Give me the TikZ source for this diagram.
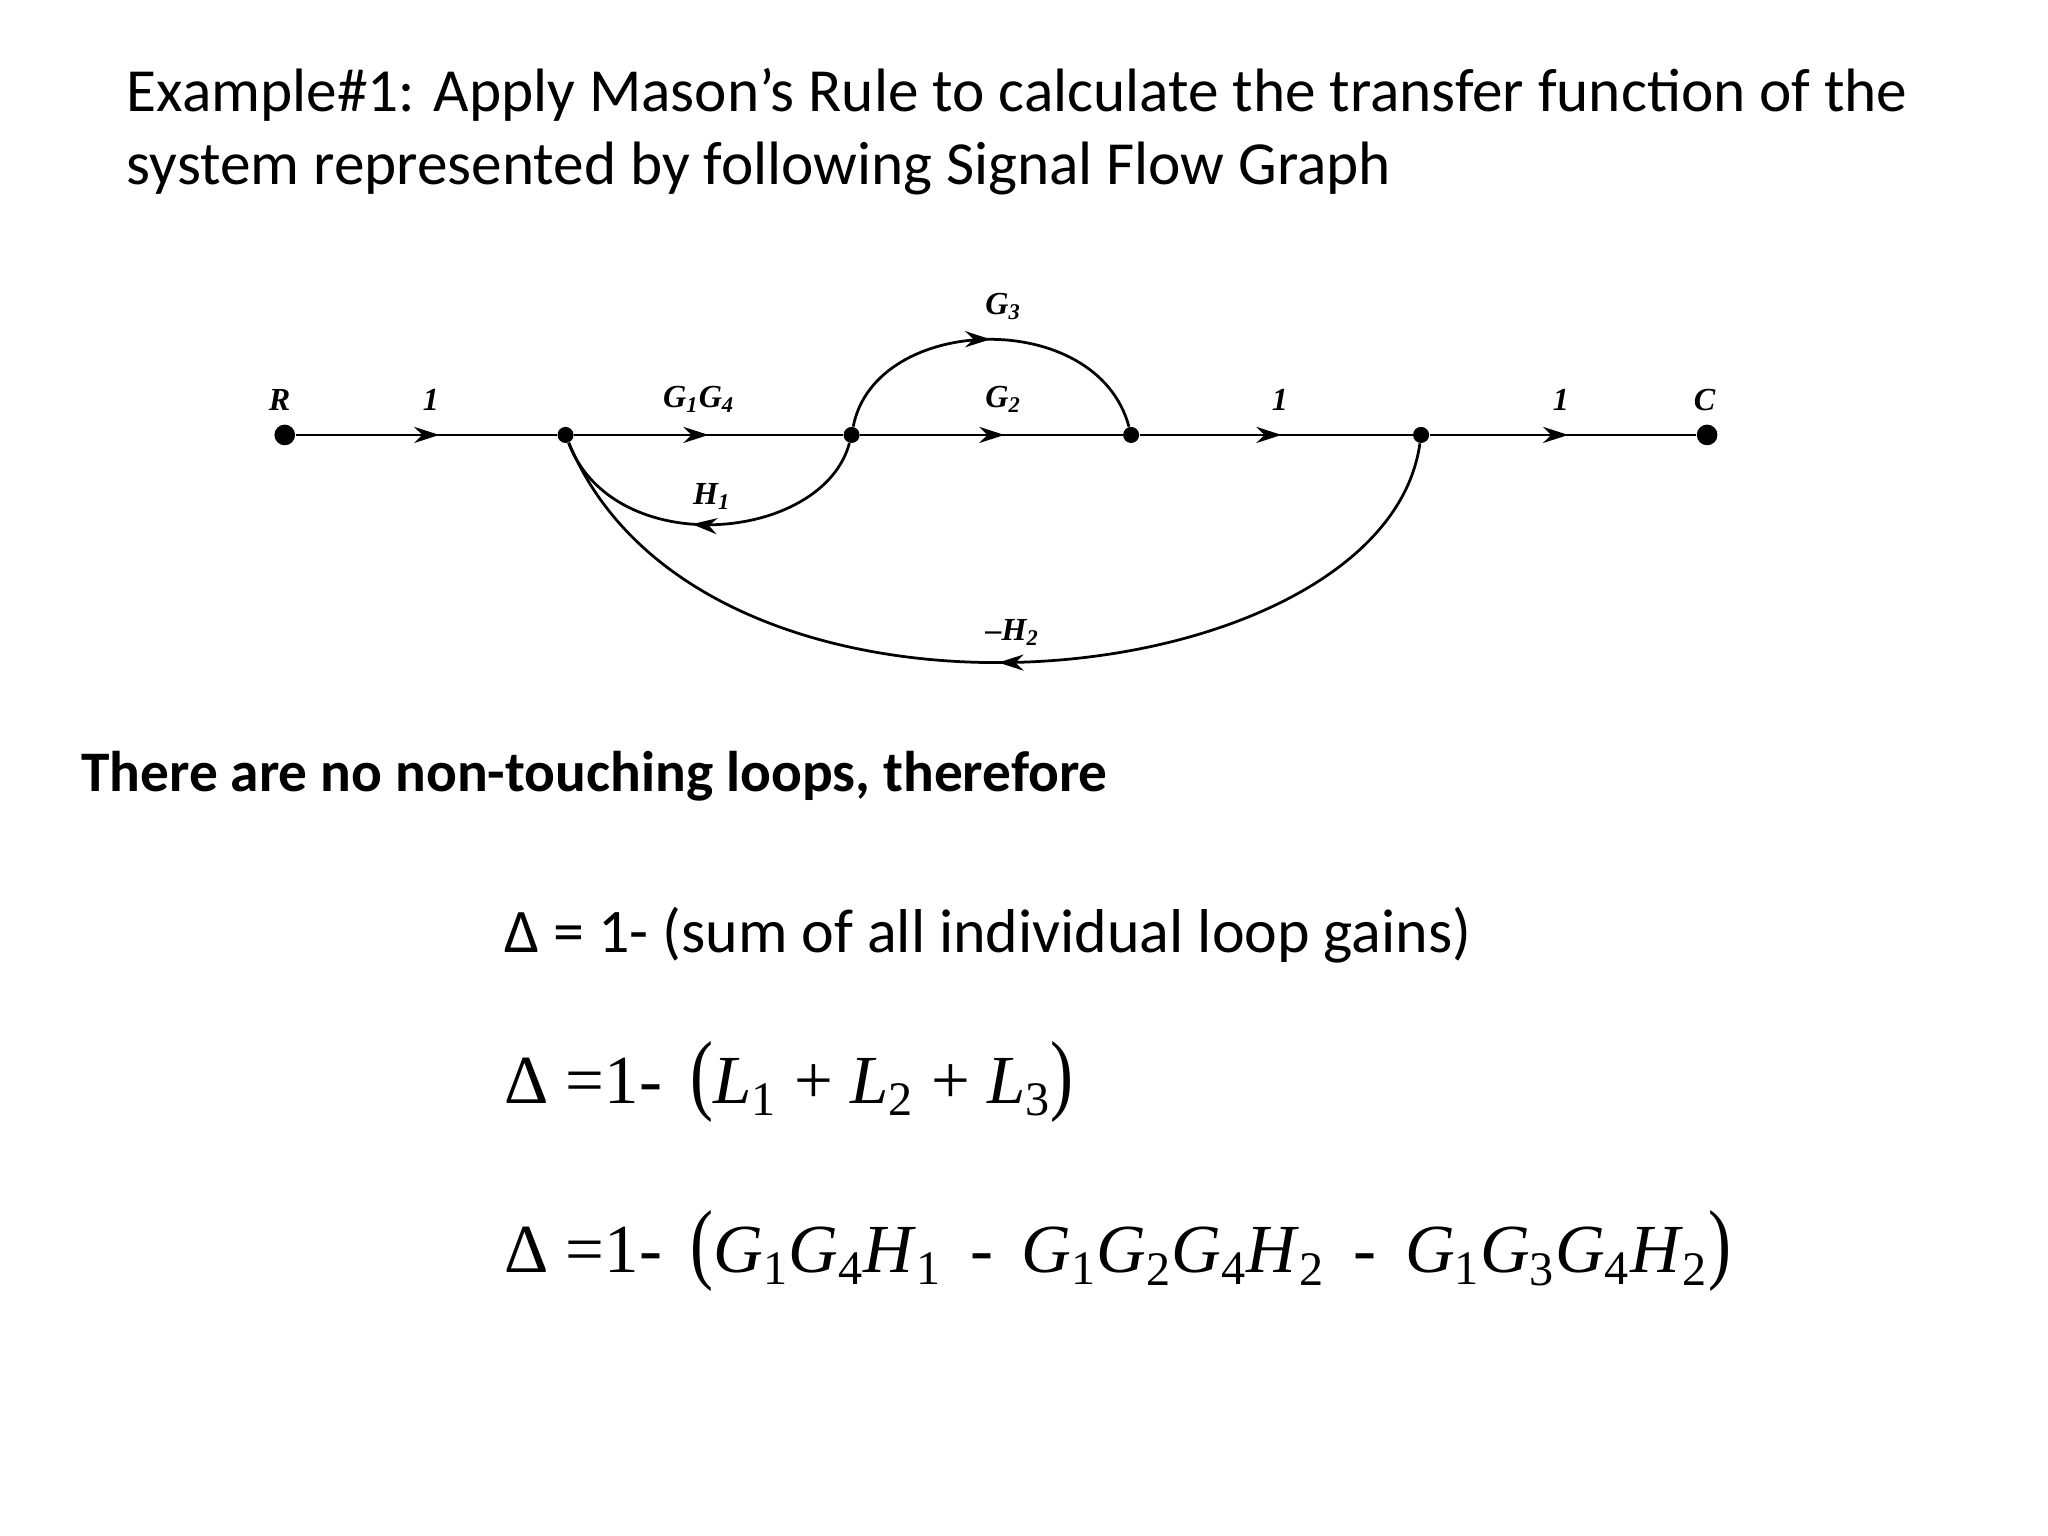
\documentclass[tikz,border=0pt]{standalone}
\usepackage{fontspec}
\setmainfont{Carlito}
\newfontfamily\serf{Liberation Serif}
\usetikzlibrary{arrows.meta,decorations.markings}
\begin{document}
\begin{tikzpicture}[x=0.02cm,y=-0.02cm,
  dot/.style={circle,fill,inner sep=0pt,minimum size=9pt},
  lbl/.style={font=\serf\bfseries\itshape\fontsize{14}{16}\selectfont},
  br/.style={line width=1.2pt},
  mid/.style={postaction={decorate},decoration={markings,mark=at position #1 with {\arrow{Stealth[length=11pt,width=7pt]}}}}]
\useasboundingbox (0,0) rectangle (1568,1176);
\node[anchor=west,font=\fontsize{26.7}{32}\selectfont,align=left] (title) at (91,101) {Example\#1: Apply Mason’s Rule to calculate the transfer function of the\\system represented by following Signal Flow Graph};
\node[dot] (R) at (218,333) {};
\node[dot,minimum size=7pt] (n1) at (433,333) {};
\node[dot,minimum size=7pt] (n2) at (652,333) {};
\node[dot,minimum size=7pt] (n3) at (866,333) {};
\node[dot,minimum size=7pt] (n4) at (1088,333) {};
\node[dot] (C) at (1307,333) {};
\draw[br,mid=0.55] (R) -- (n1);
\draw[br,mid=0.5] (n1) -- (n2);
\draw[br,mid=0.55] (n2) -- (n3);
\draw[br,mid=0.52] (n3) -- (n4);
\draw[br,mid=0.52] (n4) -- (C);
\draw[br,mid=0.5] (n2) .. controls (670,240) and (840,235) .. (n3);
\draw[br,mid=0.55] (n2) .. controls (630,415) and (470,430) .. (n1);
\draw[br,mid=0.5] (n4) .. controls (1060,535) and (540,590) .. (n1);
\node[lbl] (lR) at (214,306) {R};
\node[lbl] (l1a) at (330,306) {1};
\node[lbl] (lg14) at (535,306) {G\textsubscript{1}G\textsubscript{4}};
\node[lbl] (lg2) at (768,306) {G\textsubscript{2}};
\node[lbl] (lg3) at (768,235) {G\textsubscript{3}};
\node[lbl] (l1b) at (980,306) {1};
\node[lbl] (l1c) at (1195,306) {1};
\node[lbl] (lC) at (1305,306) {C};
\node[lbl] (lh1) at (545,380) {H\textsubscript{1}};
\node[lbl] (lh2) at (775,484) {\char"2013H\textsubscript{2}};
\node[anchor=west,font=\bfseries\fontsize{25}{30}\selectfont] (t1) at (56,594) {There are no non-touching loops, therefore};
\node[anchor=west,font=\fontsize{27}{32}\selectfont] (t2) at (380,716) {Δ = 1- (sum of all individual loop gains)};
\node[anchor=west,font=\serf\fontsize{30}{36}\selectfont] (e1) at (380,828) {Δ =1-\, \scalebox{1}[1.3]{(}\textit{L}\textsubscript{1} + \textit{L}\textsubscript{2} + \textit{L}\textsubscript{3}\scalebox{1}[1.3]{)}};
\node[anchor=west,font=\serf\fontsize{30}{36}\selectfont] (e2) at (380,958) {Δ =1-\, \scalebox{1}[1.3]{(}\textit{G}\textsubscript{1}\textit{G}\textsubscript{4}\textit{H}\textsubscript{1} \,-\, \textit{G}\textsubscript{1}\textit{G}\textsubscript{2}\textit{G}\textsubscript{4}\textit{H}\textsubscript{2} \,-\, \textit{G}\textsubscript{1}\textit{G}\textsubscript{3}\textit{G}\textsubscript{4}\textit{H}\textsubscript{2}\scalebox{1}[1.3]{)}};
\end{tikzpicture}
\end{document}
